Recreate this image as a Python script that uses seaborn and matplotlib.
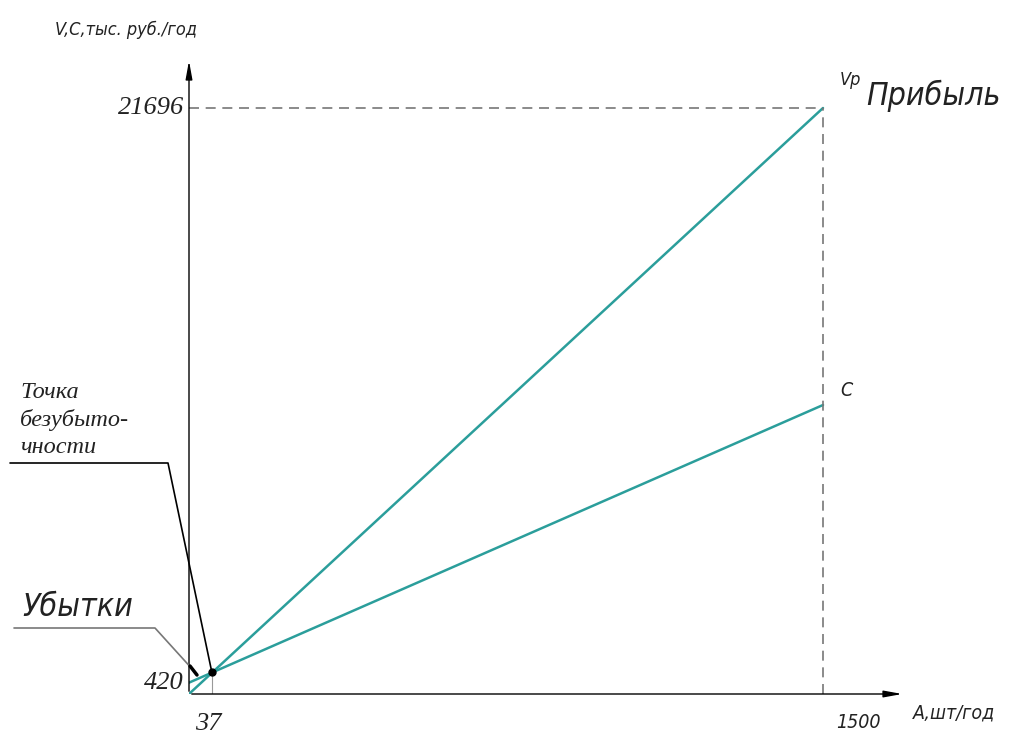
import numpy as np
import pandas as pd
import matplotlib
matplotlib.use("Agg")
import matplotlib.pyplot as plt
import seaborn as sns

# data
volume = [0, 1500]               # A, шт/год
revenue = [0, 21696]             # Vp, тыс. руб./год
costs = [420, 10700]             # C, тыс. руб./год (постоянные 420)
a_ticks = [1500]
a_labels = ["1500"]
v_ticks = [420, 21696]
v_labels = ["420", "21696"]
breakeven_label = "37"

df = pd.concat([
    pd.DataFrame({"A": volume, "val": revenue, "line": "Vp"}),
    pd.DataFrame({"A": volume, "val": costs, "line": "C"}),
])

# intersection of the two lines
k_v = (revenue[1] - revenue[0]) / (volume[1] - volume[0])
k_c = (costs[1] - costs[0]) / (volume[1] - volume[0])
be_a = (costs[0] - revenue[0]) / (k_v - k_c)
be_v = revenue[0] + k_v * be_a

sns.set_style("white")
plt.rcParams["font.family"] = ["DejaVu Sans"]

W, H = 1034, 738
fig = plt.figure(figsize=(W / 100, H / 100), dpi=100)
ax = fig.add_axes([189 / W, (H - 694) / H, 716 / W, 636 / H])
ax.set_xlim(0, 1694)
ax.set_ylim(0, 23547)

teal = "#2b9e9b"
sns.lineplot(data=df, x="A", y="val", hue="line", palette=[teal, teal],
             linewidth=1.8, legend=False, ax=ax)
ax.set_xlabel("")
ax.set_ylabel("")

# dashed guides to the end point
ax.plot([0, volume[1]], [revenue[1], revenue[1]], ls=(0, (6, 4)), color="#777777", lw=1.2)
ax.plot([volume[1], volume[1]], [0, revenue[1]], ls=(0, (6, 4)), color="#777777", lw=1.2)
ax.plot([be_a, be_a], [0, be_v], color="#999999", lw=0.8)
ax.plot([be_a], [be_v], "o", color="black", ms=5, zorder=5)

for s in ax.spines.values():
    s.set_visible(False)
ax.set_xticks([])
ax.set_yticks([])

# axes with arrows
ax.annotate("", xy=(1, 0), xytext=(0, 0), xycoords="axes fraction",
            arrowprops=dict(arrowstyle="-|>,head_length=1.1,head_width=0.2", color="black", lw=1.0))
ax.annotate("", xy=(0, 1), xytext=(0, 0), xycoords="axes fraction",
            arrowprops=dict(arrowstyle="-|>,head_length=1.1,head_width=0.2", color="black", lw=1.0))

serif_it = dict(family="Liberation Serif", style="italic", color="#222222")
sans_it = dict(family="DejaVu Sans", style="italic", stretch="condensed", color="#222222")

# tick labels
for v, lab in zip(v_ticks, v_labels):
    ax.text(-12, v, lab, ha="right", va="center", fontsize=19, **serif_it)
ax.text(be_a - 10, -700, breakeven_label, ha="center", va="top", fontsize=19, **serif_it)
for a, lab in zip(a_ticks, a_labels):
    ax.text(a + 30, -700, lab, ha="left", va="top", fontsize=14, **sans_it)

fig.text(913 / W, 1 - 713 / H, "A,шт/год", fontsize=14, va="center", **sans_it)
fig.text(55 / W, 1 - 30 / H, "V,C,тыс. руб./год", fontsize=13, va="center", **sans_it)

ax.text(volume[1] + 40, revenue[1] + 700, "Vp", fontsize=13, va="bottom", **sans_it)
ax.text(volume[1] + 40, costs[1] + 200, "С", fontsize=14, va="bottom", **sans_it)
fig.text(866 / W, 1 - 96 / H, "Прибыль", fontsize=23, va="center", **sans_it)
fig.text(22 / W, 1 - 608 / H, "Убытки", fontsize=23, va="center", **sans_it)

fig.text(20 / W, 1 - 420 / H, "Точка\nбезубыто-\nчности", fontsize=17.5, va="center",
         linespacing=1.35, **serif_it)

# leader lines (figure pixels)
def fx(p):
    return p[0] / W, 1 - p[1] / H

pts = [fx(p) for p in [(10, 463), (168, 463), (212, 673)]]
fig.add_artist(plt.Line2D([p[0] for p in pts], [p[1] for p in pts], color="black", lw=1.2))
pts = [fx(p) for p in [(14, 628), (155, 628), (194, 671)]]
fig.add_artist(plt.Line2D([p[0] for p in pts], [p[1] for p in pts], color="#777777", lw=1.2))
fig.add_artist(plt.Line2D([fx((190, 666))[0], fx((197, 675))[0]],
                          [fx((190, 666))[1], fx((197, 675))[1]], color="black", lw=2.5))

fig.savefig("out.png", dpi=100)
